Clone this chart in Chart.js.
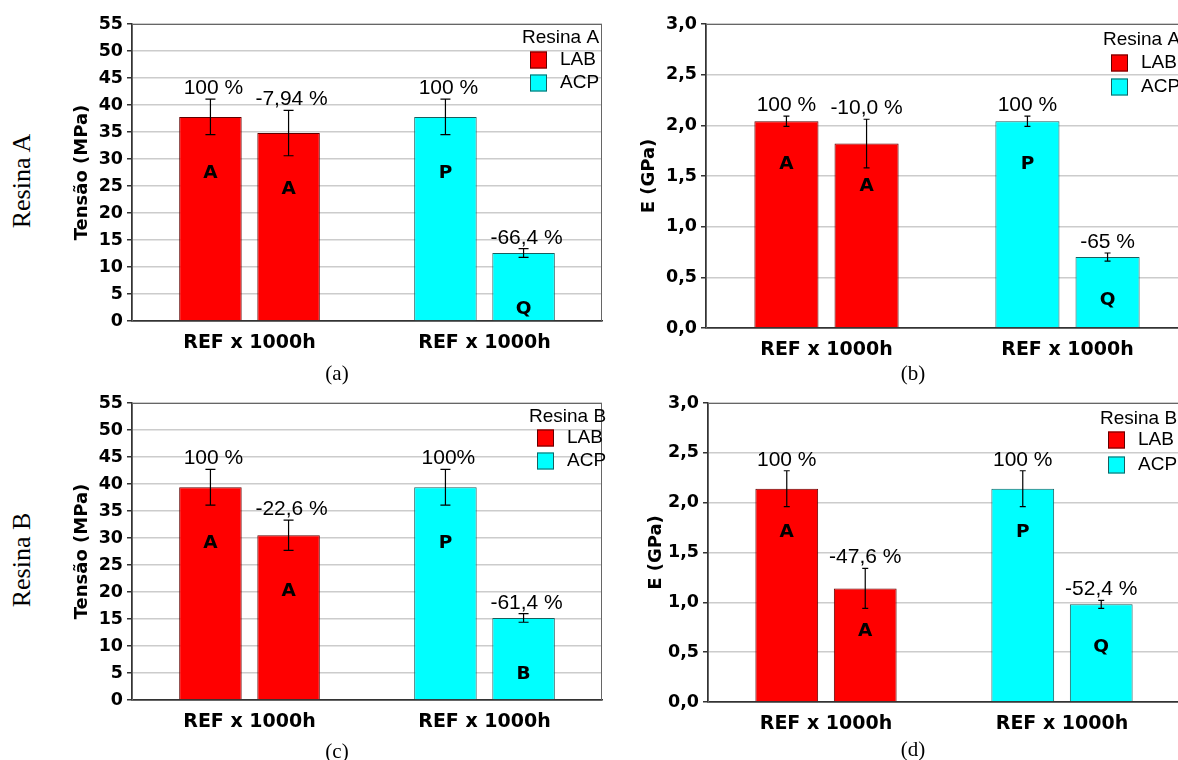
<!DOCTYPE html>
<html lang="pt">
<head>
    <meta charset="UTF-8">
    <title>Tensão e módulo - Resina A e B</title>
    <script src="https://cdn.jsdelivr.net/npm/chart.js"></script>
    <style>
        body { margin: 0; width: 1178px; height: 760px; overflow: hidden; background: #fff; position: relative; }
        canvas { position: absolute; }
        .side { position: absolute; font: 26px "Liberation Serif", serif; color: #000; white-space: nowrap;
                transform: translate(-50%, -50%) rotate(-90deg); }
        .cap { position: absolute; font: 21px "Liberation Serif", serif; color: #000; transform: translate(-50%, -50%); }
    </style>
</head>
<body>
    <div class="side" style="left: 22px; top: 181px;">Resina A</div>
    <div class="side" style="left: 22px; top: 560px;">Resina B</div>

    <canvas id="chartA" width="610" height="380" style="left: 0; top: 0;"></canvas>
    <canvas id="chartB" width="600" height="380" style="left: 600px; top: 0;"></canvas>
    <canvas id="chartC" width="610" height="380" style="left: 0; top: 380px;"></canvas>
    <canvas id="chartD" width="600" height="380" style="left: 600px; top: 380px;"></canvas>

    <div class="cap" style="left: 337px; top: 373px;">(a)</div>
    <div class="cap" style="left: 913px; top: 373px;">(b)</div>
    <div class="cap" style="left: 337px; top: 751px;">(c)</div>
    <div class="cap" style="left: 913px; top: 749px;">(d)</div>

    <script>
        // categorias e grupos
        const categories = ['REF x 1000h', 'REF x 1000h'];
        const groupNames = ['LAB', 'ACP'];
        const groupColors = ['#ff0000', '#00ffff'];
        const groupBorders = ['#600000', '#1a5f5f'];

        const tensaoTicks = ['0', '5', '10', '15', '20', '25', '30', '35', '40', '45', '50', '55'];
        const moduloTicks = ['0,0', '0,5', '1,0', '1,5', '2,0', '2,5', '3,0'];

        // (a) Tensão - Resina A   [LAB, ACP]
        const tensaoA_ref = [37.8, 37.8];
        const tensaoA_1000h = [34.8, 12.6];
        const tensaoA_refErr = [3.3, 3.3];
        const tensaoA_1000hErr = [4.2, 0.8];
        const tensaoA_refPct = ['100 %', '100 %'];
        const tensaoA_1000hPct = ['-7,94 %', '-66,4 %'];
        const tensaoA_refLetras = ['A', 'P'];
        const tensaoA_1000hLetras = ['A', 'Q'];

        // (b) Módulo - Resina A
        const moduloA_ref = [2.04, 2.04];
        const moduloA_1000h = [1.82, 0.70];
        const moduloA_refErr = [0.05, 0.05];
        const moduloA_1000hErr = [0.24, 0.04];
        const moduloA_refPct = ['100 %', '100 %'];
        const moduloA_1000hPct = ['-10,0 %', '-65 %'];
        const moduloA_refLetras = ['A', 'P'];
        const moduloA_1000hLetras = ['A', 'Q'];

        // (c) Tensão - Resina B
        const tensaoB_ref = [39.4, 39.4];
        const tensaoB_1000h = [30.5, 15.2];
        const tensaoB_refErr = [3.3, 3.3];
        const tensaoB_1000hErr = [2.8, 0.8];
        const tensaoB_refPct = ['100 %', '100%'];
        const tensaoB_1000hPct = ['-22,6 %', '-61,4 %'];
        const tensaoB_refLetras = ['A', 'P'];
        const tensaoB_1000hLetras = ['A', 'B'];

        // (d) Módulo - Resina B
        const moduloB_ref = [2.14, 2.14];
        const moduloB_1000h = [1.14, 0.98];
        const moduloB_refErr = [0.18, 0.18];
        const moduloB_1000hErr = [0.20, 0.04];
        const moduloB_refPct = ['100 %', '100 %'];
        const moduloB_1000hPct = ['-47,6 %', '-52,4 %'];
        const moduloB_refLetras = ['A', 'P'];
        const moduloB_1000hLetras = ['A', 'Q'];

        const boldFont = '"DejaVu Sans", sans-serif';

        // barras de erro, porcentagens, letras, moldura e legenda
        const barExtras = {
            id: 'barExtras',
            beforeDatasetsDraw(chart) {
                const { ctx, chartArea: a } = chart;
                ctx.save();
                ctx.strokeStyle = '#666';
                ctx.lineWidth = 1;
                ctx.strokeRect(a.left + 0.5, a.top + 0.5, a.right - a.left - 1, a.bottom - a.top);
                ctx.restore();
            },
            afterDatasetsDraw(chart, args, opts) {
                const ctx = chart.ctx;
                const y = chart.scales.y;
                ctx.save();
                chart.data.datasets.forEach((ds, i) => {
                    chart.getDatasetMeta(i).data.forEach((bar, j) => {
                        const v = ds.data[j];
                        const e = opts.err[i][j];
                        const yHi = y.getPixelForValue(v + e);
                        const yLo = y.getPixelForValue(v - e);
                        ctx.strokeStyle = '#000';
                        ctx.lineWidth = 1.2;
                        ctx.beginPath();
                        ctx.moveTo(bar.x, yHi); ctx.lineTo(bar.x, yLo);
                        ctx.moveTo(bar.x - opts.cap, yHi); ctx.lineTo(bar.x + opts.cap, yHi);
                        ctx.moveTo(bar.x - opts.cap, yLo); ctx.lineTo(bar.x + opts.cap, yLo);
                        ctx.stroke();

                        ctx.fillStyle = '#000';
                        ctx.textAlign = 'center';
                        ctx.font = '21px "Liberation Sans", Arial, sans-serif';
                        ctx.textBaseline = 'alphabetic';
                        ctx.fillText(opts.pct[i][j], bar.x + opts.pctDx, yHi - 5);

                        ctx.font = 'bold 18.5px ' + boldFont;
                        ctx.textBaseline = 'middle';
                        ctx.fillText(opts.letras[i][j], bar.x, bar.y + opts.letterDrop);
                    });
                });

                // legenda
                const L = opts.legend;
                ctx.font = '19px "Liberation Sans", Arial, sans-serif';
                ctx.textAlign = 'left';
                ctx.textBaseline = 'middle';
                ctx.fillStyle = '#000';
                ctx.fillText(L.title, L.x - 8, L.titleY);
                L.rows.forEach((ry, k) => {
                    ctx.fillStyle = groupColors[k];
                    ctx.fillRect(L.x, ry - 8.5, 17, 17);
                    ctx.strokeStyle = groupBorders[k];
                    ctx.lineWidth = 1;
                    ctx.strokeRect(L.x + 0.5, ry - 8, 16, 16);
                    ctx.fillStyle = '#000';
                    ctx.fillText(groupNames[k], L.x + 30, ry);
                });
                ctx.restore();
            }
        };

        function makePanel(id, p) {
            const ticks = p.tickLabels;
            return new Chart(document.getElementById(id), {
                type: 'bar',
                data: {
                    labels: categories,
                    datasets: [
                        { label: 'REF', data: p.ref, backgroundColor: groupColors, borderColor: groupBorders, borderWidth: 1 },
                        { label: '1000h', data: p.h1000, backgroundColor: groupColors, borderColor: groupBorders, borderWidth: 1 }
                    ]
                },
                options: {
                    responsive: false,
                    animation: false,
                    layout: { padding: { top: p.top, right: p.right, left: 0, bottom: 0 } },
                    datasets: { bar: { categoryPercentage: 0.665, barPercentage: 0.8 } },
                    plugins: {
                        legend: { display: false },
                        tooltip: { enabled: false },
                        barExtras: {
                            err: [p.refErr, p.h1000Err],
                            pct: [p.refPct, p.h1000Pct],
                            letras: [p.refLetras, p.h1000Letras],
                            cap: p.cap,
                            pctDx: p.pctDx,
                            letterDrop: p.letterDrop,
                            legend: p.legend
                        }
                    },
                    scales: {
                        x: {
                            grid: { display: false },
                            border: { color: '#333', width: 1.5 },
                            ticks: { color: '#000', padding: 3, font: { family: boldFont, weight: 'bold', size: 19 } },
                            afterFit: s => { s.height = p.xh; }
                        },
                        y: {
                            min: 0,
                            max: p.max,
                            ticks: {
                                stepSize: p.step,
                                color: '#000',
                                padding: 4,
                                font: { family: boldFont, weight: 'bold', size: 17.5 },
                                callback: (v, i) => ticks[i]
                            },
                            grid: { color: '#cccccc', lineWidth: 1.5, tickLength: 5, tickColor: '#333', tickWidth: 1.5 },
                            border: { color: '#333', width: 1.5 },
                            title: {
                                display: true,
                                text: p.title,
                                color: '#000',
                                padding: { top: p.titlePad },
                                font: { family: boldFont, weight: 'bold', size: 18 }
                            },
                            afterFit: s => { s.width = p.yw; }
                        }
                    }
                },
                plugins: [barExtras]
            });
        }

        makePanel('chartA', {
            ref: tensaoA_ref, h1000: tensaoA_1000h, refErr: tensaoA_refErr, h1000Err: tensaoA_1000hErr,
            refPct: tensaoA_refPct, h1000Pct: tensaoA_1000hPct, refLetras: tensaoA_refLetras, h1000Letras: tensaoA_1000hLetras,
            tickLabels: tensaoTicks, max: 55, step: 5, title: 'Tensão (MPa)', titlePad: 72,
            top: 24, right: 8, yw: 132, xh: 59, cap: 5, pctDx: 3, letterDrop: 56,
            legend: { title: 'Resina A', x: 530, titleY: 38, rows: [60, 83] }
        });

        makePanel('chartB', {
            ref: moduloA_ref, h1000: moduloA_1000h, refErr: moduloA_refErr, h1000Err: moduloA_1000hErr,
            refPct: moduloA_refPct, h1000Pct: moduloA_1000hPct, refLetras: moduloA_refLetras, h1000Letras: moduloA_1000hLetras,
            tickLabels: moduloTicks, max: 3, step: 0.5, title: 'E (GPa)', titlePad: 39,
            top: 24, right: 12, yw: 106, xh: 52, cap: 3, pctDx: 0, letterDrop: 43,
            legend: { title: 'Resina A', x: 511, titleY: 40, rows: [63, 87] }
        });

        makePanel('chartC', {
            ref: tensaoB_ref, h1000: tensaoB_1000h, refErr: tensaoB_refErr, h1000Err: tensaoB_1000hErr,
            refPct: tensaoB_refPct, h1000Pct: tensaoB_1000hPct, refLetras: tensaoB_refLetras, h1000Letras: tensaoB_1000hLetras,
            tickLabels: tensaoTicks, max: 55, step: 5, title: 'Tensão (MPa)', titlePad: 72,
            top: 23, right: 8, yw: 132, xh: 60, cap: 5, pctDx: 3, letterDrop: 56,
            legend: { title: 'Resina B', x: 537, titleY: 37, rows: [58, 81] }
        });

        makePanel('chartD', {
            ref: moduloB_ref, h1000: moduloB_1000h, refErr: moduloB_refErr, h1000Err: moduloB_1000hErr,
            refPct: moduloB_refPct, h1000Pct: moduloB_1000hPct, refLetras: moduloB_refLetras, h1000Letras: moduloB_1000hLetras,
            tickLabels: moduloTicks, max: 3, step: 0.5, title: 'E (GPa)', titlePad: 46,
            top: 23, right: 20, yw: 108, xh: 58, cap: 3, pctDx: 0, letterDrop: 43,
            legend: { title: 'Resina B', x: 508, titleY: 39, rows: [60, 85] }
        });
    </script>
</body>
</html>
